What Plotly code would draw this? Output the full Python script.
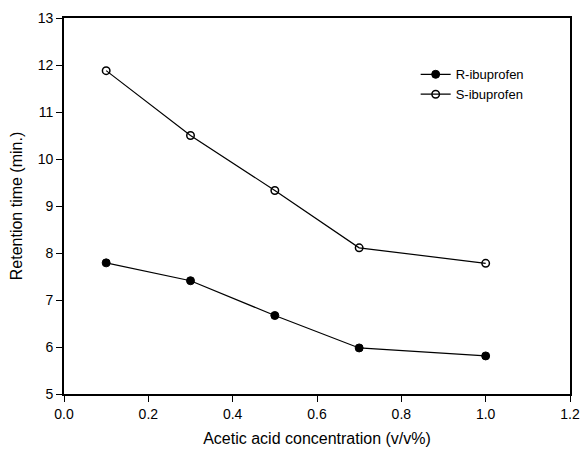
import plotly.graph_objects as go

# Acetic acid concentration in the mobile phase (v/v%)
acetic_acid = [0.1, 0.3, 0.5, 0.7, 1.0]

# Retention times (min.) of the two enantiomers
r_ibuprofen = [7.79, 7.41, 6.67, 5.98, 5.81]
s_ibuprofen = [11.88, 10.50, 9.33, 8.11, 7.78]

x_ticks = [0.0, 0.2, 0.4, 0.6, 0.8, 1.0, 1.2]
y_ticks = [5, 6, 7, 8, 9, 10, 11, 12, 13]

FONT = "Arial, Liberation Sans, Helvetica, sans-serif"

fig = go.Figure()
fig.add_trace(go.Scatter(
    x=acetic_acid, y=r_ibuprofen, name="R-ibuprofen", mode="lines+markers",
    line=dict(color="black", width=1.2),
    marker=dict(symbol="circle", size=8, color="black",
                line=dict(color="black", width=1)),
))
fig.add_trace(go.Scatter(
    x=acetic_acid, y=s_ibuprofen, name="S-ibuprofen", mode="lines+markers",
    line=dict(color="black", width=1.2),
    marker=dict(symbol="circle-open", size=7.5, color="black",
                line=dict(color="black", width=1.5)),
))

axis_common = dict(
    showline=True, linecolor="black", linewidth=1.6, mirror=True,
    ticks="outside", ticklen=6, tickwidth=1.2, tickcolor="black",
    showgrid=False, zeroline=False,
    tickfont=dict(family=FONT, size=14, color="black"),
)

fig.update_xaxes(
    range=[0, 1.2], tickvals=x_ticks, ticktext=[f"{v:.1f}" for v in x_ticks],
    title=dict(text="Acetic acid concentration (v/v%)", standoff=12,
               font=dict(family=FONT, size=16, color="black")),
    **axis_common,
)
fig.update_yaxes(
    range=[5, 13], tickvals=y_ticks,
    title=dict(text="Retention time (min.)", standoff=11,
               font=dict(family=FONT, size=16, color="black")),
    **axis_common,
)

fig.update_layout(
    width=588, height=457,
    margin=dict(l=64, r=8, t=18, b=63),
    paper_bgcolor="white", plot_bgcolor="white",
    font=dict(family=FONT, color="black"),
    showlegend=True,
    legend=dict(
        x=0.695, y=0.89, xanchor="left", yanchor="top",
        bgcolor="rgba(0,0,0,0)", borderwidth=0,
        font=dict(family=FONT, size=13, color="black"),
        tracegroupgap=0, itemwidth=30,
    ),
)

fig.write_html("out.html")
